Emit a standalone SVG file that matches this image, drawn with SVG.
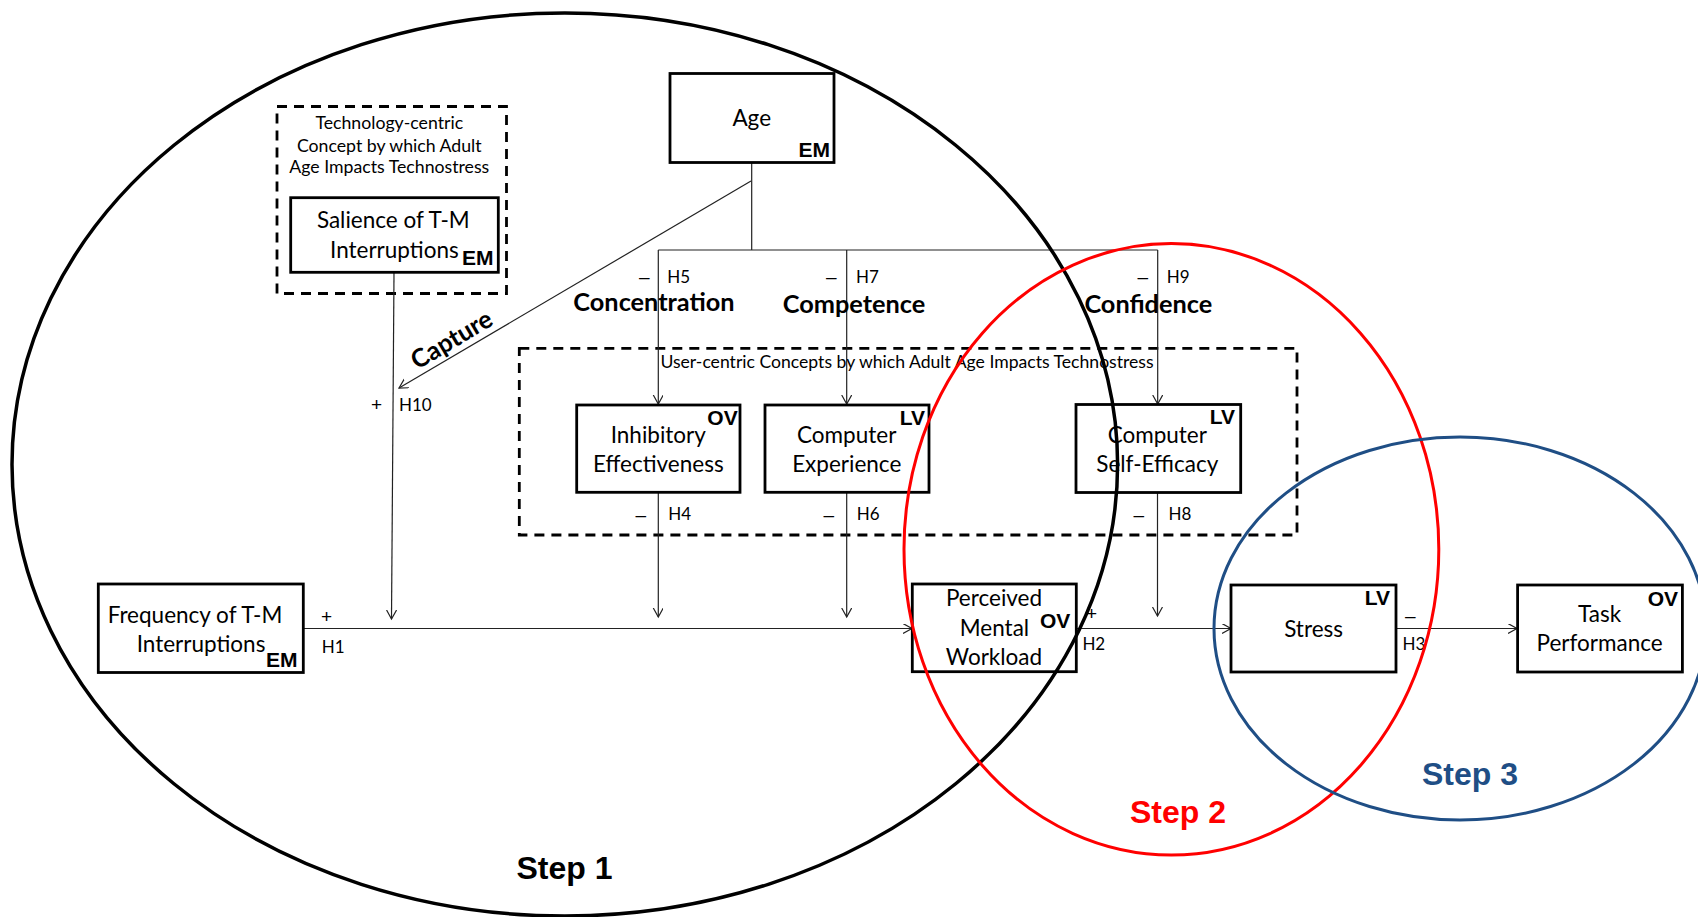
<svg xmlns="http://www.w3.org/2000/svg" width="1698" height="917" viewBox="0 0 1698 917">
<defs>
<marker id="arr" markerUnits="userSpaceOnUse" markerWidth="12" markerHeight="12" refX="9" refY="5" orient="auto">
<path d="M0,0 L9,5 L0,10" fill="none" stroke="#222" stroke-width="1.2"/>
</marker>
<style>
.box{fill:#fff;stroke:#000;stroke-width:2.8}
.dash{fill:none;stroke:#000;stroke-width:2.8;stroke-dasharray:10 7}
.t{font-family:Lato,"Open Sans","Liberation Sans",sans-serif;font-size:22.5px;fill:#000}
.ts{font-family:Lato,"Open Sans","Liberation Sans",sans-serif;font-size:17.7px;fill:#000}
.tu{font-family:Lato,"Open Sans","Liberation Sans",sans-serif;font-size:17.6px;fill:#000}
.h{font-family:Lato,"Open Sans","Liberation Sans",sans-serif;font-size:17px;fill:#000}
.m{font-family:"Liberation Sans",Arial,sans-serif;font-size:19px;fill:#000}
.b{font-family:Lato,"Open Sans","Liberation Sans",sans-serif;font-size:25.3px;font-weight:bold;fill:#000}
.tag{font-family:"Liberation Sans",Arial,sans-serif;font-size:21px;font-weight:bold;fill:#000}
.step{font-family:"Liberation Sans",Arial,sans-serif;font-size:32px;font-weight:bold}
.c{text-anchor:middle}
.e{text-anchor:end}
.ln{fill:none;stroke:#222;stroke-width:1.2}
.la{fill:none;stroke:#222;stroke-width:1.2;marker-end:url(#arr)}
</style>
</defs>
<rect width="1698" height="917" fill="#fff"/>

<g id="tech-centric-group">
<rect class="dash" x="277" y="106.5" width="229.5" height="187"/>
<text class="ts c" x="389.3" y="129.3">Technology-centric</text>
<text class="ts c" x="389.3" y="151.7">Concept by which Adult</text>
<text class="ts c" x="389.3" y="173.3">Age Impacts Technostress</text>
</g>
<g id="user-centric-group">
<rect class="dash" x="519.3" y="348.3" width="777.7" height="186.7"/>
<text class="tu c" x="907" y="368.3">User-centric Concepts by which Adult Age Impacts Technostress</text>
</g>

<g id="connectors">
<path class="ln" d="M751.7,162 V250 M658.3,250 H1157.7"/>
<path class="la" d="M658.3,250 V404"/>
<path class="la" d="M846.7,250 V404"/>
<path class="la" d="M1157.7,250 V404"/>
<path class="la" d="M751,181 L399,388"/>
<path class="la" d="M394,273 L391.5,619"/>
<path class="la" d="M658.3,492 V617"/>
<path class="la" d="M846.7,492 V617"/>
<path class="la" d="M1157.5,492 V616"/>
<path class="la" d="M303,628.5 H912"/>
<path class="la" d="M1076,628.5 H1231"/>
<path class="la" d="M1396,628.5 H1517"/>
<text class="b" x="0" y="0" transform="translate(456,347) rotate(-30.6)" text-anchor="middle">Capture</text>
<text class="m" x="371" y="411">+</text><text class="h" x="399" y="410.7">H10</text>
<text class="m" x="639" y="283">–</text><text class="h" x="667.3" y="282.7">H5</text>
<text class="m" x="826" y="283">–</text><text class="h" x="856" y="282.7">H7</text>
<text class="m" x="1137.5" y="283">–</text><text class="h" x="1166.7" y="282.7">H9</text>
<text class="m" x="635.5" y="520.5">–</text><text class="h" x="668.3" y="520">H4</text>
<text class="m" x="823.5" y="520.5">–</text><text class="h" x="856.7" y="520">H6</text>
<text class="m" x="1133.5" y="520.5">–</text><text class="h" x="1168.6" y="520">H8</text>
<text class="m" x="321" y="623">+</text><text class="h" x="321.7" y="653.3">H1</text>
<text class="m" x="1086" y="620">+</text><text class="h" x="1082.4" y="650">H2</text>
<text class="m" x="1405" y="621.5">–</text><text class="h" x="1402.5" y="650">H3</text>
<text class="b c" x="654" y="310.7">Concentration</text>
<text class="b c" x="854" y="312.7">Competence</text>
<text class="b c" x="1148.3" y="312.7">Confidence</text>
</g>

<g id="node-age">
<rect class="box" x="670" y="73.5" width="164" height="89"/>
<text class="t c" x="751.7" y="126">Age</text>
<text class="tag e" x="830" y="156.7">EM</text>
</g>
<g id="node-salience">
<rect class="box" x="290.7" y="197.7" width="207.6" height="74.6"/>
<text class="t c" x="393.3" y="228.3">Salience of T-M</text>
<text class="t" x="330" y="258.3">Interruptions</text>
<text class="tag" x="462" y="265">EM</text>
</g>
<g id="node-inhibitory">
<rect class="box" x="576.7" y="405" width="163.3" height="87.3"/>
<text class="tag e" x="737.7" y="425">OV</text>
<text class="t c" x="658.3" y="443.3">Inhibitory</text>
<text class="t c" x="658.3" y="471.7">Effectiveness</text>
</g>
<g id="node-experience">
<rect class="box" x="765" y="405" width="164" height="87.3"/>
<text class="tag e" x="925" y="425">LV</text>
<text class="t c" x="846.7" y="443.3">Computer</text>
<text class="t c" x="846.7" y="471.7">Experience</text>
</g>
<g id="node-self-efficacy">
<rect class="box" x="1076" y="404.5" width="164.7" height="88"/>
<text class="tag e" x="1235" y="424">LV</text>
<text class="t c" x="1157.3" y="443.3">Computer</text>
<text class="t c" x="1157.3" y="471.7">Self-Efficacy</text>
</g>
<g id="node-frequency">
<rect class="box" x="98.3" y="584" width="205" height="88.5"/>
<text class="t c" x="195" y="623.3">Frequency of T-M</text>
<text class="t" x="136.7" y="651.7">Interruptions</text>
<text class="tag" x="266" y="666.7">EM</text>
</g>
<g id="node-workload">
<rect class="box" x="912.3" y="584" width="164" height="87.7"/>
<text class="t c" x="994" y="606">Perceived</text>
<text class="t c" x="994.5" y="635.7">Mental</text>
<text class="t c" x="994" y="665">Workload</text>
<text class="tag" x="1040" y="628.3">OV</text>
</g>
<g id="node-stress">
<rect class="box" x="1231" y="585" width="165" height="87"/>
<text class="tag e" x="1390" y="605">LV</text>
<text class="t c" x="1313.6" y="637">Stress</text>
</g>
<g id="node-task">
<rect class="box" x="1517.6" y="585" width="164.8" height="87"/>
<text class="tag e" x="1678" y="605.7">OV</text>
<text class="t c" x="1599.6" y="621.7">Task</text>
<text class="t c" x="1599.6" y="650.7">Performance</text>
</g>

<g id="step1">
<ellipse cx="564.8" cy="464.5" rx="552.8" ry="451.5" fill="none" stroke="#000" stroke-width="3.5"/>
<text class="step" x="516.5" y="879" fill="#000">Step 1</text>
</g>
<g id="step2">
<ellipse cx="1171.4" cy="549.3" rx="267.4" ry="305.7" fill="none" stroke="#ff0000" stroke-width="3"/>
<text class="step" x="1130" y="823" fill="#ff0000">Step 2</text>
</g>
<g id="step3">
<ellipse cx="1460" cy="628.5" rx="246" ry="191.5" fill="none" stroke="#1f4e85" stroke-width="3"/>
<text class="step" x="1422" y="785" fill="#1f4e85">Step 3</text>
</g>
</svg>
